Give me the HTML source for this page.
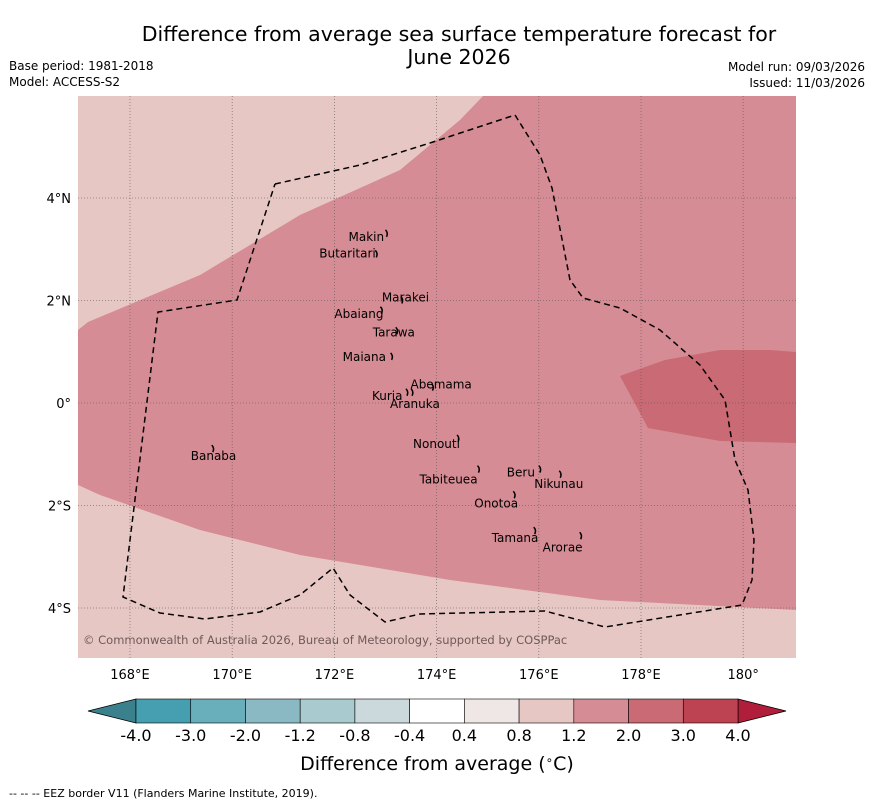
<!DOCTYPE html>
<html><head><meta charset="utf-8"><style>
body{margin:0;background:#fff;font-family:"DejaVu Sans","Liberation Sans",sans-serif}
svg{display:block}
</style></head><body>
<svg width="873" height="804" viewBox="0 0 873 804" font-family="DejaVu Sans, Liberation Sans, sans-serif">
<text x="459" y="41" font-size="20.5" text-anchor="middle">Difference from average sea surface temperature forecast for</text>
<text x="459" y="64" font-size="20.5" text-anchor="middle">June 2026</text>
<text x="9" y="70" font-size="12">Base period: 1981-2018</text>
<text x="9" y="86" font-size="12">Model: ACCESS-S2</text>
<text x="865" y="71" font-size="12" text-anchor="end">Model run: 09/03/2026</text>
<text x="865" y="87" font-size="12" text-anchor="end">Issued: 11/03/2026</text>
<g id="map">
<rect x="78" y="96" width="718" height="562" fill="#e7c7c3"/>
<polygon fill="#d68c94" points="78,330 88,322 200,275 300,215 400,170 460,120 483,96 796,96 796,610 600,600 450,580 300,555 200,530 100,495 78,485"/>
<polygon fill="#c96a74" points="620,376 665,360 720,350 770,350 796,352 796,443 720,441 648,428"/>
<g id="grid" stroke="#555" stroke-width="0.8" stroke-dasharray="1,2" opacity="0.7"></g>
<polyline fill="none" stroke="#000" stroke-width="1.5" stroke-dasharray="6,4" points="275,184 360,165 430,143 515,115 540,155 552,188 570,280 583,298 620,308 660,330 700,365 725,400 735,460 748,490 754,540 752,580 742,605 605,627 545,611 420,614 385,622 350,595 333,568 300,595 260,612 205,619 160,613 123,597 158,312 237,300 275,184"/>
<g id="islands" font-size="12" fill="#000"></g>
<text x="83" y="644" font-size="11.5" fill="#6e5a5a">© Commonwealth of Australia 2026, Bureau of Meteorology, supported by COSPPac</text>
</g>
<g id="xticks" font-size="13" text-anchor="middle"></g>
<g id="yticks" font-size="13" text-anchor="end"></g>
<g id="cbar"></g>
<text x="437" y="770" font-size="19" text-anchor="middle">Difference from average (<tspan font-size="12" dy="-6">∘</tspan><tspan dy="6">C)</tspan></text>
<text x="9" y="797" font-size="11">--  --  -- EEZ border V11 (Flanders Marine Institute, 2019).</text>
</svg>
<script>
const lonTicks=[168,170,172,174,176,178,180];
const lonLabels=["168°E","170°E","172°E","174°E","176°E","178°E","180°"];
const latTicks=[4,2,0,-2,-4];
const latLabels=["4°N","2°N","0°","2°S","4°S"];
const cbarLevels=["-4.0","-3.0","-2.0","-1.2","-0.8","-0.4","0.4","0.8","1.2","2.0","3.0","4.0"];
const cbarColors=["#469fb0","#69aebb","#8ab9c4","#a9cace","#cbd9dd","#ffffff","#eee7e5","#e7c7c3","#d68c94","#c96a74","#bd4353"];
const islandNames=["Makin","Butaritari","Marakei","Abaiang","Tarawa","Maiana","Abemama","Kuria","Aranuka","Nonouti","Tabiteuea","Beru","Nikunau","Onotoa","Tamana","Arorae","Banaba"];
const islandLon=[173.0,172.8,173.3,172.9,173.2,173.1,173.9,173.4,173.5,174.4,174.8,176.0,176.4,175.5,175.9,176.8,169.6];
const islandLat=[3.3,2.9,2.0,1.8,1.4,0.9,0.3,0.2,0.2,-0.7,-1.3,-1.3,-1.4,-1.8,-2.5,-2.6,-0.9];
const labelDx=[-37,-56,-19,-46,-23,-48,-21,-34,-21,-44,-58,-32,-25,-39,-42,-37,-21];
const labelDy=[7,3,1,7,5,4,1,7,15,9,14,7,13,12,11,15,11];
const NS='http://www.w3.org/2000/svg';
const xS=lon=>130+(lon-168)*51.1;
const yS=lat=>403-lat*51.25;
function mk(t,a,p){const e=document.createElementNS(NS,t);for(const k in a)e.setAttribute(k,a[k]);p.appendChild(e);return e;}
const grid=document.getElementById('grid');
lonTicks.forEach(l=>{const e=mk('line',{x1:xS(l),x2:xS(l),y1:96,y2:658},grid);

});
latTicks.forEach(l=>{const e=mk('line',{x1:78,x2:796,y1:yS(l),y2:yS(l)},grid);

});
const xt=document.getElementById('xticks');
lonTicks.forEach((l,i)=>{const e=mk('text',{x:xS(l),y:679},xt);e.textContent=lonLabels[i];

});
const yt=document.getElementById('yticks');
latTicks.forEach((l,i)=>{const e=mk('text',{x:71,y:yS(l)+5},yt);e.textContent=latLabels[i];

});
const isl=document.getElementById('islands');
islandNames.forEach((n,i)=>{const x=xS(islandLon[i]),y=yS(islandLat[i]);
const m=mk('path',{d:`M${x} ${y-4} q3 3 1 7`,stroke:'#000','stroke-width':1.5,fill:'none'},isl);


const t=mk('text',{x:x+labelDx[i],y:y+labelDy[i]},isl);t.textContent=n;

});
const cb=document.getElementById('cbar');
const cx0=136,cx1=738,cy0=699,cy1=723,w=(cx1-cx0)/cbarColors.length;
const l=mk('polygon',{points:`88,711 ${cx0},${cy0} ${cx0},${cy1}`,fill:'#3a818d',stroke:'#000','stroke-width':0.8},cb);


const r=mk('polygon',{points:`786,711 ${cx1},${cy0} ${cx1},${cy1}`,fill:'#b01e3c',stroke:'#000','stroke-width':0.8},cb);


cbarColors.forEach((c,i)=>{const e=mk('rect',{x:cx0+i*w,y:cy0,width:w,height:cy1-cy0,fill:c,stroke:'#000','stroke-width':0.6},cb);

});
cbarLevels.forEach((v,i)=>{const e=mk('text',{x:cx0+i*w,y:741,'font-size':16,'text-anchor':'middle'},cb);e.textContent=v;

});
</script>
</body></html>
